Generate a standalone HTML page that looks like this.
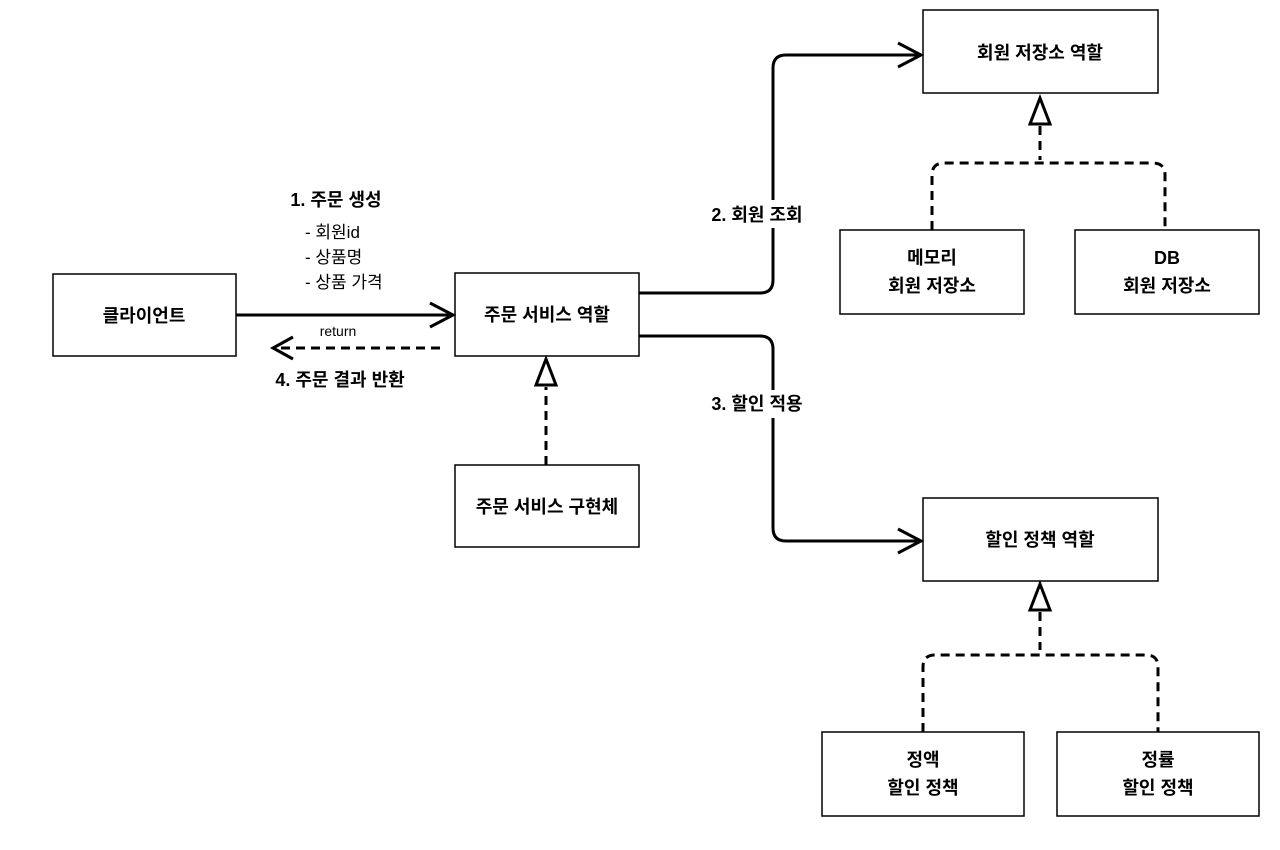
<!DOCTYPE html>
<html><head><meta charset="utf-8"><style>
html,body{margin:0;padding:0;background:#fff;}
svg{display:block;}
text{font-family:"Liberation Sans","Noto Sans CJK KR","NanumGothic",sans-serif;fill:#000;}
.b{font-weight:bold;font-size:18px;}
</style></head><body>
<svg width="1280" height="850" viewBox="0 0 1280 850" xmlns="http://www.w3.org/2000/svg">
<g fill="#fff" stroke="#000" stroke-width="1.5">
<rect x="53" y="274" width="183" height="82"/>
<rect x="455" y="273" width="184" height="83"/>
<rect x="455" y="465" width="184" height="82"/>
<rect x="923" y="10" width="235" height="83"/>
<rect x="840" y="230" width="184" height="84"/>
<rect x="1075" y="230" width="184" height="84"/>
<rect x="923" y="498" width="235" height="83"/>
<rect x="822" y="732" width="202" height="84"/>
<rect x="1057" y="732" width="202" height="84"/>
</g>
<g fill="none" stroke="#000" stroke-width="3">
<path d="M236 315 H452"/>
<path d="M430 303 L453 315 L430 327"/>
<path d="M639 293 H760 Q773 293 773 280 V68 Q773 55 786 55 H920"/>
<path d="M898 43 L921 55 L898 67"/>
<path d="M639 336 H760 Q773 336 773 349 V528 Q773 541 786 541 H920"/>
<path d="M898 529 L921 541 L898 553"/>
<path d="M293 337 L273 348 L293 359"/>
<path d="M1040 98 L1030 124 H1050 Z"/>
<path d="M1040 584 L1030 610 H1050 Z"/>
<path d="M546 359 L536 385 H556 Z"/>
</g>
<g fill="none" stroke="#000" stroke-width="3" stroke-dasharray="9,6">
<path d="M440 348 H276"/>
<path d="M546 465 V387"/>
<path d="M1040 126 V160"/>
<path d="M932 230 V175 Q932 163 944 163 H1153 Q1165 163 1165 175 V230"/>
<path d="M1040 612 V650"/>
<path d="M923 732 V667 Q923 655 935 655 H1146 Q1158 655 1158 667 V732"/>
</g>
<g class="b" text-anchor="middle">
<text x="144" y="322">클라이언트</text>
<text x="547" y="321">주문 서비스 역할</text>
<text x="547" y="513">주문 서비스 구현체</text>
<text x="1040" y="59">회원 저장소 역할</text>
<text x="932" y="264">메모리</text>
<text x="932" y="292">회원 저장소</text>
<text x="1167" y="264">DB</text>
<text x="1167" y="292">회원 저장소</text>
<text x="1040" y="546">할인 정책 역할</text>
<text x="923" y="766">정액</text>
<text x="923" y="794">할인 정책</text>
<text x="1158" y="766">정률</text>
<text x="1158" y="794">할인 정책</text>
<text x="336" y="206">1. 주문 생성</text>
<text x="340" y="386">4. 주문 결과 반환</text>
</g>
<rect x="700" y="200" width="115" height="28" fill="#fff"/>
<rect x="700" y="390" width="115" height="28" fill="#fff"/>
<g class="b" text-anchor="middle">
<text x="757" y="221">2. 회원 조회</text>
<text x="757" y="410">3. 할인 적용</text>
</g>
<g font-size="17">
<text x="305" y="238">- 회원id</text>
<text x="305" y="263">- 상품명</text>
<text x="305" y="288">- 상품 가격</text>
</g>
<text x="338" y="336" font-size="14" text-anchor="middle">return</text>
</svg>
</body></html>
